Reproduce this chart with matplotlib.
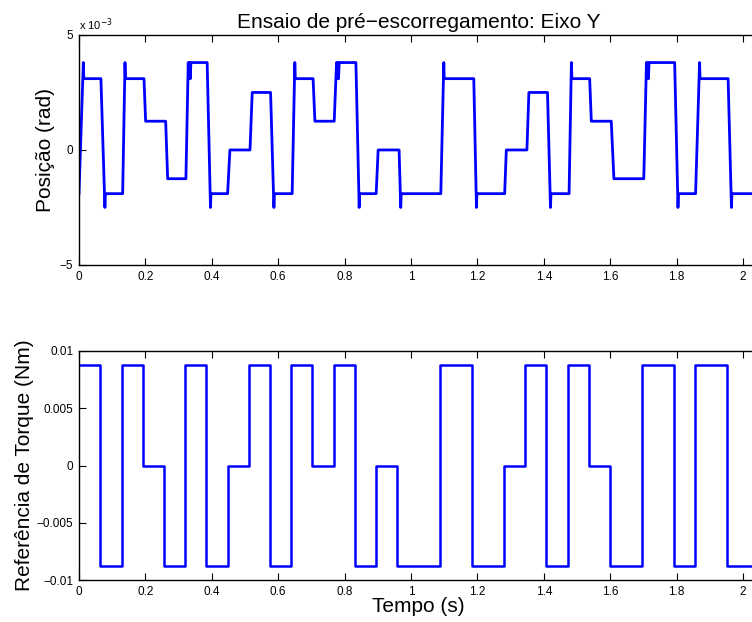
import matplotlib
matplotlib.use("Agg")
import matplotlib.pyplot as plt
import numpy as np

plt.rcParams['font.family'] = ['Liberation Sans', 'DejaVu Sans']

# ---------------- data ----------------
# Position (x 1e-3 rad), piecewise breakpoints
pos_t = [0.000, 0.013, 0.0145, 0.066, 0.078, 0.0795,
         0.1315, 0.1385, 0.140, 0.1957, 0.2007, 0.261, 0.267,
         0.322, 0.329, 0.331, 0.333, 0.335, 0.337, 0.386, 0.396, 0.3975,
         0.4476, 0.4545, 0.515, 0.5217, 0.577, 0.587, 0.5885,
         0.642, 0.650, 0.6515, 0.705, 0.7105, 0.7686,
         0.7757, 0.7777, 0.7797, 0.7817, 0.7837, 0.834, 0.8438, 0.8453,
         0.895, 0.901, 0.964, 0.969, 0.9705,
         1.0897, 1.0987, 1.100, 1.189, 1.197, 1.1985,
         1.282, 1.287, 1.349, 1.355, 1.411, 1.420, 1.4215,
         1.476, 1.483, 1.4845, 1.538, 1.543, 1.603, 1.611,
         1.701, 1.709, 1.711, 1.713, 1.715, 1.717, 1.794, 1.804, 1.8055,
         1.857, 1.869, 1.8705, 1.955, 1.965, 1.9665, 2.045]
pos_v = [-1.9, 3.8, 3.1, 3.1, -2.5, -1.9,
         -1.9, 3.8, 3.1, 3.1, 1.25, 1.25, -1.25,
         -1.25, 3.8, 3.1, 3.8, 3.1, 3.8, 3.8, -2.5, -1.9,
         -1.9, 0.0, 0.0, 2.5, 2.5, -2.5, -1.9,
         -1.9, 3.8, 3.1, 3.1, 1.25, 1.25,
         3.8, 3.1, 3.8, 3.1, 3.8, 3.8, -2.5, -1.9,
         -1.9, 0.0, 0.0, -2.5, -1.9,
         -1.9, 3.8, 3.1, 3.1, -2.5, -1.9,
         -1.9, 0.0, 0.0, 2.5, 2.5, -2.5, -1.9,
         -1.9, 3.8, 3.1, 3.1, 1.25, 1.25, -1.25,
         -1.25, 3.8, 3.1, 3.8, 3.1, 3.8, 3.8, -2.5, -1.9,
         -1.9, 3.8, 3.1, 3.1, -2.5, -1.9, -1.9]

# Torque reference (Nm), step switch times and levels
torque_t = [0.0, 0.0632, 0.1285, 0.1917, 0.256, 0.319, 0.384, 0.4475,
            0.512, 0.575, 0.640, 0.703, 0.768, 0.832, 0.896, 0.959,
            1.087, 1.184, 1.279, 1.343, 1.408, 1.473, 1.535, 1.598,
            1.697, 1.792, 1.854, 1.953, 2.045]
torque_v = [0.00875, -0.00875, 0.00875, 0.0, -0.00875, 0.00875, -0.00875, 0.0,
            0.00875, -0.00875, 0.00875, 0.0, 0.00875, -0.00875, 0.0, -0.00875,
            0.00875, -0.00875, 0.0, 0.00875, -0.00875, 0.00875, 0.0, -0.00875,
            0.00875, -0.00875, 0.00875, -0.00875, -0.00875]

xticks = [0, 0.2, 0.4, 0.6, 0.8, 1.0, 1.2, 1.4, 1.6, 1.8, 2.0]
xtick_labels = ['0', '0.2', '0.4', '0.6', '0.8', '1', '1.2', '1.4', '1.6', '1.8', '2']
pos_yticks = [-5e-3, 0, 5e-3]
pos_ytick_labels = ['\u22125', '0', '5']
tq_yticks = [-0.01, -0.005, 0, 0.005, 0.01]
tq_ytick_labels = ['\u22120.01', '\u22120.005', '0', '0.005', '0.01']

# ---------------- figure ----------------
fig = plt.figure(figsize=(7.52, 6.22), dpi=100)
W = 679 / 752
ax1 = fig.add_axes([79 / 752, 0.574, W, 0.3698])
ax2 = fig.add_axes([79 / 752, 0.0670, W, 0.3692])

blue = (0, 0, 1)
ax1.plot(np.array(pos_t), np.array(pos_v) * 1e-3, color=blue, lw=2.0)
ax2.plot(torque_t, torque_v, color=blue, lw=1.8, drawstyle='steps-post')

for ax in (ax1, ax2):
    ax.set_xlim(0, 2.045)
    ax.set_xticks(xticks)
    ax.set_xticklabels(xtick_labels)
    ax.tick_params(direction='in', top=True, right=False, length=5, width=0.8,
                   labelsize=8.5, pad=4)
    for s in ax.spines.values():
        s.set_linewidth(1.0)

ax1.set_ylim(-5e-3, 5e-3)
ax1.set_yticks(pos_yticks)
ax1.set_yticklabels(pos_ytick_labels)
ax1.text(0.0, 1.008, 'x 10$^{-3}$', transform=ax1.transAxes, ha='left',
         va='bottom', fontsize=8)
ax1.set_title('Ensaio de pré\u2212escorregamento: Eixo Y', fontsize=15, pad=5)
ax1.set_ylabel('Posição (rad)', fontsize=15)
ax1.yaxis.set_label_coords(-0.035, 0.5)

ax2.set_ylim(-0.01, 0.01)
ax2.set_yticks(tq_yticks)
ax2.set_yticklabels(tq_ytick_labels)
ax2.set_ylabel('Referência de Torque (Nm)', fontsize=15)
ax2.yaxis.set_label_coords(-0.066, 0.5)
ax2.set_xlabel('Tempo (s)', fontsize=15)
ax2.xaxis.set_label_coords(0.5, -0.072)

fig.savefig('out.png', dpi=100)
